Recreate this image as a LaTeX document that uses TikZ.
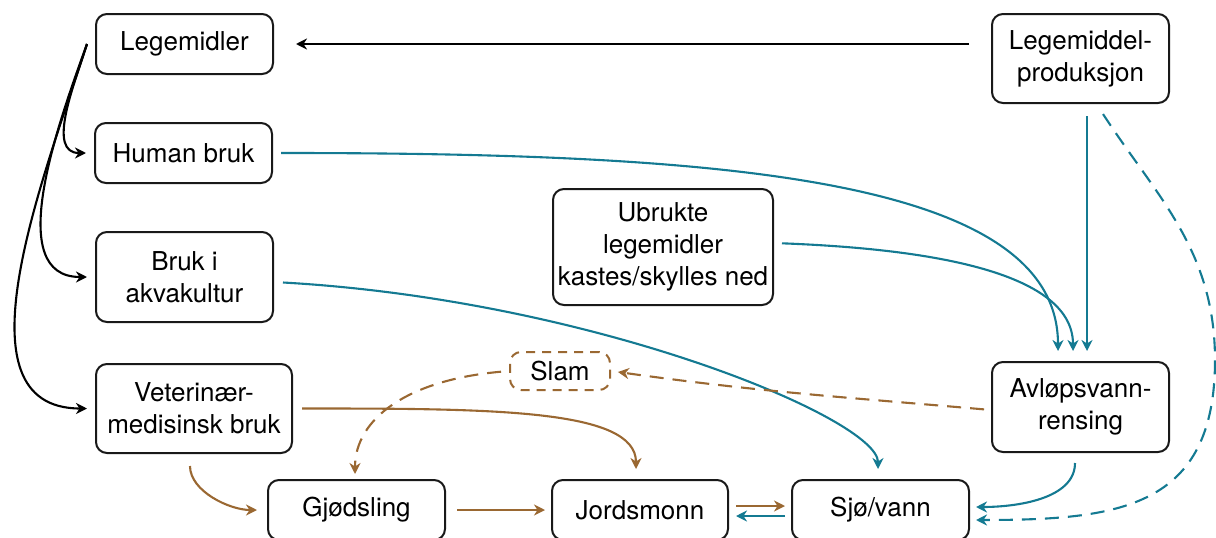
\documentclass[tikz,border=0pt]{standalone}
\usepackage{fontspec}
\setmainfont{TeX Gyre Heros}
\usetikzlibrary{arrows.meta}
\definecolor{flowteal}{RGB}{20,122,146}
\definecolor{flowbrown}{RGB}{154,104,50}
\begin{document}
\begin{tikzpicture}[x=1pt,y=1pt,
  box/.style={draw=black!90, line width=2pt, rounded corners=11pt, align=center,
    inner sep=0pt, font=\fontsize{26}{32}\selectfont},
  dbox/.style={box, draw=flowbrown, dashed, dash pattern=on 9pt off 7pt},
  conn/.style={line width=2.1pt, -{Stealth[length=11pt,width=11pt,inset=3.5pt]}},
  dconn/.style={conn, dash pattern=on 14pt off 9pt},
  blk/.style={conn, draw=black},
  wat/.style={conn, draw=flowteal},
  soil/.style={conn, draw=flowbrown}]
\useasboundingbox (0,0) rectangle (1216,-538);

% nodes
\node[box, minimum width=177pt, minimum height=60pt] (L)  at (184.5,-44)  {Legemidler};
\node[box, minimum width=177pt, minimum height=60pt] (HB) at (183.5,-153) {Human bruk};
\node[box, minimum width=177pt, minimum height=90pt] (BA) at (184.5,-277) {Bruk i\\akvakultur};
\node[box, minimum width=196pt, minimum height=89pt] (VM) at (194,-408.5) {Veterinær-\\medisinsk bruk};
\node[box, minimum width=177pt, minimum height=60pt] (GJ) at (356.5,-510) {Gjødsling};
\node[box, minimum width=176pt, minimum height=60pt] (JO) at (640,-510)   {Jordsmonn};
\node[box, minimum width=177pt, minimum height=60pt] (SV) at (880.5,-510) {Sjø/vann};
\node[box, minimum width=177pt, minimum height=89pt] (LP) at (1080.5,-58.5) {Legemiddel-\\produksjon};
\node[box, minimum width=220pt, minimum height=116pt] (UB) at (663,-247) {Ubrukte\\legemidler\\kastes/skylles ned};
\node[box, minimum width=177pt, minimum height=90pt] (AV) at (1080.5,-407) {Avløpsvann-\\rensing};
\node[dbox, minimum width=100pt, minimum height=38pt] (SL) at (560,-371) {Slam};

% production to medicines
\draw[blk, shorten <=22pt, shorten >=22pt] ([yshift=14.5pt]LP.west) -- (L.east |- 0,-44);

% medicines branching to uses
\coordinate (src) at ([xshift=-8pt]L.west);
\draw[blk, shorten >=8pt] (src) to[out=252,in=180,looseness=1.1] (HB.west);
\draw[blk, shorten >=8pt] (src) to[out=250,in=180] (BA.west);
\draw[blk, shorten >=8pt] (src) to[out=252,in=180] (VM.west);

% flows into wastewater treatment
\draw[wat, shorten <=8pt, shorten >=10pt] (HB.east) .. controls +(440,0) and +(0,185) .. ([xshift=-22.5pt]AV.north);
\draw[wat, shorten <=8pt, shorten >=10pt] ([yshift=4pt]UB.east) .. controls +(130,-5) and +(0,95) .. ([xshift=-7.5pt]AV.north);
\draw[wat, shorten <=12pt, shorten >=10pt] ([xshift=6.5pt]LP.south) -- ([xshift=6.5pt]AV.north);

% direct discharge from production
\coordinate (bend) at (1215,-360);
\draw[wat, dconn, shorten <=12pt, shorten >=6pt] ([xshift=16pt]LP.south) to[out=-57,in=90] (bend)
  to[out=-90,in=0,looseness=1.3] ([yshift=-10pt]SV.east);

% treated water to sea
\draw[wat, shorten <=10pt, shorten >=6pt] ([xshift=-5.5pt]AV.south) to[out=-90,in=0] ([yshift=3pt]SV.east);

% aquaculture to sea
\draw[wat, shorten <=9pt, shorten >=10pt] ([yshift=-5pt]BA.east) .. controls +(320,-18) and +(0,60) .. ([xshift=-2.5pt]SV.north);

% sludge
\draw[soil, dconn, shorten <=7pt, shorten >=7pt] ([yshift=-3pt]AV.west) to[out=175,in=-8] (SL.east);
\draw[soil, dconn, shorten <=8pt, shorten >=5pt] (SL.west) .. controls +(-102,-9) and +(0,60) .. ([xshift=-1.5pt]GJ.north);

% veterinary use
\draw[soil, shorten <=9pt, shorten >=10pt] (VM.east) .. controls +(200,0) and +(0,70) .. ([xshift=-4pt]JO.north);
\draw[soil, shorten <=12pt, shorten >=10pt] ([xshift=-4pt]VM.south) to[out=-90,in=180] (GJ.west);

% soil and water
\draw[soil, shorten <=11pt, shorten >=6pt] (GJ.east) -- (JO.west);
\draw[soil, shorten <=7pt, shorten >=6pt] ([yshift=4pt]JO.east) -- ([yshift=4pt]SV.west);
\draw[wat, shorten <=6pt, shorten >=7pt] ([yshift=-6pt]SV.west) -- ([yshift=-6pt]JO.east);
\end{tikzpicture}
\end{document}
